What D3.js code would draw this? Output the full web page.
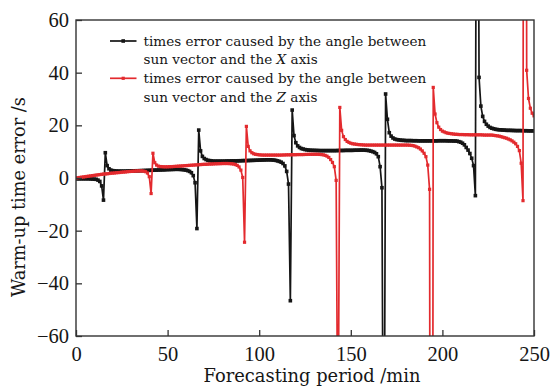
<!DOCTYPE html>
<html><head><meta charset="utf-8">
<script src="https://cdn.jsdelivr.net/npm/d3@7"></script>
<style>body{margin:0;background:#fff}</style>
</head><body>
<svg id="c" width="551" height="387"></svg>
<script>
// sampling grid (minutes)
const minutes = d3.range(0, 251, 1);
// times error caused by the angle between sun vector and the X axis
const errX = [
-0.3,-0.3,-0.3,-0.3,-0.3,-0.3,-0.3,-0.3,-0.35,-0.4,
-0.45,-0.5,-0.8,-1.3,-3.0,-8.4,9.6,4.7,3.5,3.0,
2.8,2.7,2.65,2.6,2.6,2.6,2.6,2.6,2.65,2.65,
2.7,2.7,2.7,2.75,2.75,2.8,2.8,2.85,2.85,2.9,
2.9,2.95,2.95,3.0,3.0,3.05,3.05,3.1,3.1,3.15,
3.2,3.2,3.25,3.25,3.3,3.3,3.3,3.25,3.2,3.1,
3.0,2.8,2.5,2.0,0.9,-1.8,-19.2,18.2,10.3,8.2,
7.4,7.0,6.7,6.6,6.5,6.4,6.4,6.4,6.4,6.4,
6.4,6.4,6.45,6.45,6.45,6.5,6.5,6.5,6.5,6.55,
6.55,6.6,6.6,6.6,6.65,6.65,6.7,6.7,6.75,6.75,
6.8,6.8,6.85,6.85,6.9,6.9,6.9,6.85,6.8,6.7,
6.5,6.3,6.0,5.5,4.6,2.5,-2.3,-46.6,25.8,16.1,
13.4,12.2,11.6,11.2,11.0,10.8,10.7,10.6,10.55,10.5,
10.5,10.45,10.45,10.4,10.4,10.4,10.4,10.4,10.4,10.4,
10.4,10.4,10.4,10.45,10.45,10.45,10.45,10.5,10.5,10.5,
10.5,10.5,10.55,10.55,10.55,10.6,10.6,10.6,10.55,10.5,
10.4,10.2,10.0,9.7,9.2,8.1,4.3,-3.7,-160,31.9,
22.3,17.2,15.9,15.2,14.8,14.6,14.5,14.4,14.3,14.3,
14.2,14.2,14.2,14.2,14.15,14.15,14.15,14.1,14.1,14.1,
14.1,14.1,14.1,14.1,14.1,14.1,14.1,14.1,14.15,14.15,
14.15,14.15,14.15,14.1,14.1,14.1,14.05,14.05,14.0,13.8,
13.6,13.2,12.6,11.6,10.6,9.3,7.5,4.7,-6.7,250,
38.2,27.3,23.4,21.5,20.4,19.7,19.2,18.9,18.7,18.5,
18.4,18.3,18.3,18.2,18.2,18.1,18.1,18.1,18.05,18.05,
18.0,18.0,18.0,18.0,17.95,17.95,17.95,17.9,17.9,17.9,
17.9];
// times error caused by the angle between sun vector and the Z axis
const errZ = [
0.0,0.1,0.2,0.3,0.4,0.5,0.6,0.7,0.8,0.9,
1.0,1.1,1.2,1.3,1.4,1.5,1.55,1.6,1.7,1.8,
1.85,1.9,2.0,2.05,2.1,2.2,2.25,2.3,2.4,2.45,
2.5,2.55,2.6,2.65,2.7,2.7,2.7,2.6,2.4,1.9,
0.5,-5.9,9.4,5.8,4.9,4.5,4.35,4.3,4.25,4.25,
4.25,4.3,4.3,4.35,4.4,4.45,4.5,4.55,4.6,4.65,
4.7,4.75,4.8,4.85,4.9,4.95,5.0,5.05,5.1,5.15,
5.2,5.2,5.25,5.3,5.3,5.35,5.4,5.4,5.45,5.45,
5.5,5.5,5.5,5.5,5.45,5.4,5.3,5.1,4.8,4.2,
3.0,0.2,-24.4,19.6,12.0,10.3,9.6,9.2,9.0,8.9,
8.8,8.75,8.7,8.7,8.7,8.7,8.7,8.7,8.7,8.7,
8.7,8.7,8.7,8.75,8.75,8.8,8.8,8.8,8.85,8.85,
8.85,8.9,8.9,8.9,8.9,8.95,8.95,9.0,9.0,9.0,
9.0,9.0,9.0,8.95,8.9,8.8,8.6,8.3,7.8,7.0,
5.9,4.3,-0.9,-115,26.8,18.1,15.7,14.6,13.9,13.5,
13.2,13.0,12.9,12.8,12.7,12.65,12.6,12.55,12.5,12.5,
12.5,12.5,12.5,12.5,12.5,12.5,12.5,12.5,12.5,12.5,
12.5,12.5,12.5,12.5,12.5,12.5,12.5,12.5,12.5,12.5,
12.5,12.5,12.45,12.4,12.3,12.1,11.8,11.5,11.0,10.3,
9.4,8.1,4.9,-4.3,-500,34.4,24.3,21.0,19.3,18.4,
17.8,17.5,17.2,17.0,16.9,16.8,16.7,16.6,16.6,16.5,
16.5,16.5,16.45,16.45,16.45,16.4,16.4,16.4,16.4,16.4,
16.4,16.4,16.35,16.3,16.3,16.3,16.3,16.3,16.2,16.1,
16.0,15.9,15.7,15.5,15.3,15.1,14.8,14.5,14.1,13.6,
13.0,12.0,10.4,5.6,-8.6,600,40.9,30.2,26.5,24.6,
23.6];
const xTicks = [0, 50, 100, 150, 200, 250];
const yTicks = [-60, -40, -20, 0, 20, 40, 60];
const xTitle = "Forecasting period /min";
const yTitle = "Warm-up time error /s";
const legendRows = [
  {line1: "times error caused by the angle between", pre: "sun vector and the ", ax: "X", post: " axis"},
  {line1: "times error caused by the angle between", pre: "sun vector and the ", ax: "Z", post: " axis"}
];

const W = 551, H = 387;
const L = 76, R = 534, T = 20, B = 336;
const colors = ["#151515", "#e32a2e"];
const numFont = "'Liberation Serif', 'Times New Roman', serif";
const txtFont = "'DejaVu Serif', 'Liberation Serif', serif";
const ink = "#161616";

const svg = d3.select("#c");
svg.append("rect").attr("width", W).attr("height", H).attr("fill", "#fff");

const x = d3.scaleLinear().domain([0, 250]).range([L, R]);
const y = d3.scaleLinear().domain([-60, 60]).range([B, T]);

svg.append("clipPath").attr("id", "clip").append("rect")
  .attr("x", L).attr("y", T).attr("width", R - L).attr("height", B - T);

const series = [errX, errZ];
const msize = [3.6, 3.2];
const plot = svg.append("g").attr("clip-path", "url(#clip)");
const line = d3.line().x(d => x(d[0])).y(d => y(d[1]));
series.forEach((vals, i) => {
  const pts = minutes.map((m, k) => [m, vals[k]]);
  plot.append("path").datum(pts).attr("d", line)
    .attr("fill", "none").attr("stroke", colors[i]).attr("stroke-width", 1.7)
    .attr("stroke-linejoin", "round");
  const s = msize[i];
  plot.append("g").selectAll("rect").data(pts).join("rect")
    .attr("x", d => x(d[0]) - s / 2).attr("y", d => y(d[1]) - s / 2)
    .attr("width", s).attr("height", s).attr("fill", colors[i]);
});

// axes
const xAxis = svg.append("g").attr("transform", `translate(0,${B})`)
  .call(d3.axisBottom(x).tickValues(xTicks).tickSizeInner(-6).tickSizeOuter(0).tickPadding(10).tickFormat(d3.format("d")));
const yAxis = svg.append("g").attr("transform", `translate(${L},0)`)
  .call(d3.axisLeft(y).tickValues(yTicks).tickSizeInner(-6).tickSizeOuter(0).tickPadding(7)
    .tickFormat(d => d < 0 ? "\u2212" + Math.abs(d) : String(d)));
[xAxis, yAxis].forEach(g => {
  g.select(".domain").remove();
  g.selectAll("line").attr("stroke", "#333").attr("stroke-width", 1.3);
  g.selectAll("text").attr("font-family", numFont).attr("font-size", 20.5).attr("fill", ink);
});
svg.append("rect").attr("x", L).attr("y", T).attr("width", R - L).attr("height", B - T)
  .attr("fill", "none").attr("stroke", "#333").attr("stroke-width", 1.4);

function fit(sel, target) {
  const w = sel.node().getComputedTextLength();
  const fs = parseFloat(sel.attr("font-size"));
  sel.attr("font-size", (fs * target / w).toFixed(2));
}

const xt = svg.append("text").attr("x", 312).attr("y", 382).attr("text-anchor", "middle")
  .attr("font-family", txtFont).attr("font-size", 18).attr("fill", ink).text(xTitle);
fit(xt, 217);
const yt = svg.append("text").attr("transform", "translate(25,197) rotate(-90)").attr("text-anchor", "middle")
  .attr("font-family", txtFont).attr("font-size", 18).attr("fill", ink).text(yTitle);
fit(yt, 200);

// legend
const lg = svg.append("g");
const rowY = [[46, 64, 41], [83.3, 101.7, 78.3]];
let legendSize = null;
legendRows.forEach((r, i) => {
  const [b1, b2, ly] = rowY[i];
  lg.append("line").attr("x1", 110).attr("x2", 136.5).attr("y1", ly).attr("y2", ly)
    .attr("stroke", colors[i]).attr("stroke-width", 1.7);
  const s = msize[i];
  lg.append("rect").attr("x", 123.2 - s / 2).attr("y", ly - s / 2).attr("width", s).attr("height", s).attr("fill", colors[i]);
  const t1 = lg.append("text").attr("x", 143.5).attr("y", b1).attr("font-family", txtFont)
    .attr("font-size", 14).attr("fill", ink).text(r.line1);
  if (legendSize === null) { fit(t1, 283); legendSize = t1.attr("font-size"); }
  else t1.attr("font-size", legendSize);
  const t2 = lg.append("text").attr("x", 143.5).attr("y", b2).attr("font-family", txtFont)
    .attr("font-size", legendSize).attr("fill", ink);
  t2.append("tspan").text(r.pre);
  t2.append("tspan").attr("font-style", "italic").text(r.ax);
  t2.append("tspan").text(r.post);
});
</script>
</body></html>
